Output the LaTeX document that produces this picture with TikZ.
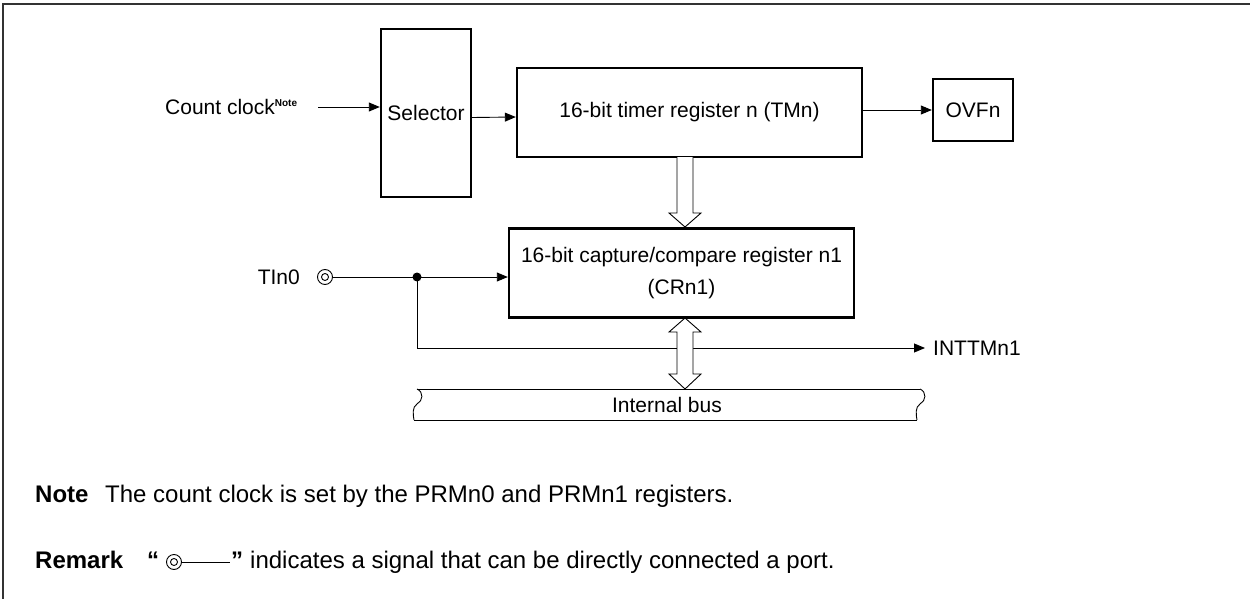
\documentclass[tikz,border=0pt]{standalone}
\usepackage{fontspec}
\setmainfont{Liberation Sans}
\usetikzlibrary{arrows.meta}
\begin{document}
\begin{tikzpicture}[x=1pt,y=-1pt,
  lbl/.style={font=\fontsize{21}{25}\selectfont, inner sep=0pt},
  box/.style={draw, line width=2.4pt, inner sep=0pt, font=\fontsize{21}{25}\selectfont},
  sig/.style={line width=0.9pt},
  arr/.style={sig, -{Triangle[length=11pt,width=9pt]}},
  hollow/.style={draw, fill=white, line width=0.9pt, line join=miter},
  txt/.style={font=\fontsize{24}{28}\selectfont, inner sep=0pt, anchor=base west},
  btxt/.style={font=\fontsize{24}{28}\selectfont\bfseries, inner sep=0pt, anchor=base west},
  portc/.style={circle, draw, line width=0.9pt, minimum size=15pt, inner sep=0pt},
]
\useasboundingbox (0,0) rectangle (1250,599);
% frame
\draw[line width=2pt, black!80] (3,599) -- (3,4.5) -- (1250,4.5);

% boxes
\node[box, minimum width=90, minimum height=168] (sel) at (426,113) {Selector};
\node[box, minimum width=345, minimum height=89] (tm) at (689.5,112.5) {16-bit timer register n (TMn)};
\node[box, minimum width=80, minimum height=62] (ovf) at (973,110) {OVFn};
\node[box, minimum width=345, minimum height=89, align=center] (cr) at (681.5,273) {16-bit capture/compare register n1\\[7pt](CRn1)};

% count clock
\node[lbl, anchor=base west] (cc) at (165,115) {Count clock\raisebox{9pt}{\fontsize{10}{10}\selectfont\bfseries Note}};
\coordinate (ccout) at (318,107);
\draw[arr] (ccout) -- (ccout -| sel.west);
\draw[arr] ([yshift=-4.5pt]sel.east) -- ([yshift=-4.5pt]tm.west);
\draw[arr] (ovf.west -| tm.east) -- (ovf.west);

% TIn0
\node[lbl, anchor=east] (tin) at (300,277) {TIn0};
\node[portc] (port) at (325,277) {};
\draw[sig] (port.center) circle (3.5);
\node[circle, fill, minimum size=9pt, inner sep=0pt] (dot) at (417,277) {};
\draw[sig] (port.east) -- (dot.center);
\draw[arr] (dot.center) -- (cr.west |- dot.center);
\node[lbl, anchor=west] (int) at (933,348) {INTTMn1};
\draw[arr] (dot.center) |- ([xshift=-8pt]int.west);

% hollow arrows
\draw[hollow] (677,157) -- (677,213) -- (669,213) -- (685,227) -- (701,213) -- (693,213) -- (693,157);
\draw[hollow] (685,318) -- (701,332) -- (693,332) -- (693,374) -- (701,374) -- (685,389) -- (669,374) -- (677,374) -- (677,332) -- (669,332) -- cycle;

% internal bus
\draw[sig] (417,389) -- (920,389);
\draw[sig] (414,420) -- (917,420);
\draw[sig] (417,389) .. controls (424,392) and (423,401) .. (417,404) .. controls (412,407) and (413,415) .. (414,420);
\draw[sig] (920,389) .. controls (927,392) and (926,401) .. (920,404) .. controls (915,407) and (916,415) .. (917,420);
\node[lbl] (bus) at (667,405) {Internal bus};

% notes
\node[btxt] (note) at (35,502) {Note};
\node[txt] (notetext) at (105,502) {The count clock is set by the PRMn0 and PRMn1 registers.};
\node[btxt] (rem) at (35,568) {Remark};
\node[btxt] (q1) at (147,568) {“};
\node[portc] (rport) at (174,562) {};
\draw[sig] (rport.center) circle (3.5);
\coordinate (rend) at (230,562);
\draw[sig] (rport.east) -- (rend);
\node[btxt] (q2) at (231,568) {”};
\node[txt] (rtext) at (250,568) {indicates a signal that can be directly connected a port.};
\end{tikzpicture}
\end{document}
